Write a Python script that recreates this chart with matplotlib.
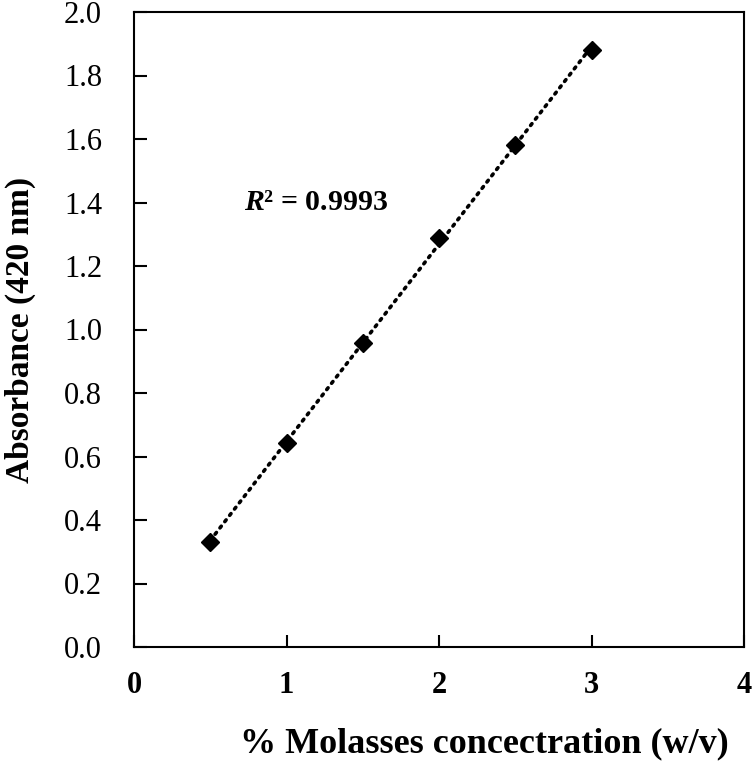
import numpy as np
import matplotlib.pyplot as plt

plt.rcParams['font.family'] = ['Liberation Serif', 'DejaVu Serif']
plt.rcParams['mathtext.fontset'] = 'custom'
plt.rcParams['mathtext.it'] = 'Liberation Serif:italic:bold'
plt.rcParams['mathtext.rm'] = 'Liberation Serif:bold'

# molasses concentration (% w/v) and absorbance at 420 nm
conc = [0.5, 1.0, 1.5, 2.0, 2.5, 3.0]
absorb = [0.331, 0.643, 0.957, 1.288, 1.581, 1.880]
xticks = [0, 1, 2, 3, 4]
yticks = [0.0, 0.2, 0.4, 0.6, 0.8, 1.0, 1.2, 1.4, 1.6, 1.8, 2.0]

fig = plt.figure(figsize=(7.52, 7.65), dpi=100)
ax = fig.add_axes([134/752, 118/765, 610/752, 635/765])

# linear trendline
k, b = np.polyfit(conc, absorb, 1)
xl = np.array([conc[0], conc[-1]])
ax.plot(xl, k*xl + b, color='black', linestyle=(0, (0.6, 1.6)), lw=2.6,
        dash_capstyle='round')
ax.plot(conc, absorb, linestyle='none', marker='D', ms=9, color='black')

ax.set_xlim(0, 4)
ax.set_ylim(0, 2)
ax.set_xticks(xticks)
ax.set_yticks(yticks)
ax.set_xticklabels([str(t) for t in xticks], fontweight='bold')
ax.set_yticklabels(['%.1f' % t for t in yticks])
ax.tick_params(direction='in', length=9, width=1.5, labelsize=22)
ax.tick_params(axis='y', pad=23)
ax.tick_params(axis='x', pad=17)
for s in ax.spines.values():
    s.set_linewidth(1.5)

ax.set_xlabel('% Molasses concectration (w/v)', fontsize=26, fontweight='bold')
ax.xaxis.set_label_coords(0.575, -0.127)
ax.set_ylabel('Absorbance (420 nm)', fontsize=24, fontweight='bold', labelpad=20)

ax.text(0.72, 1.4, r'$\mathit{R}$' + '² = 0.9993', fontsize=21.5, fontweight='bold',
        va='center', ha='left')

fig.savefig('out.png', dpi=100)
